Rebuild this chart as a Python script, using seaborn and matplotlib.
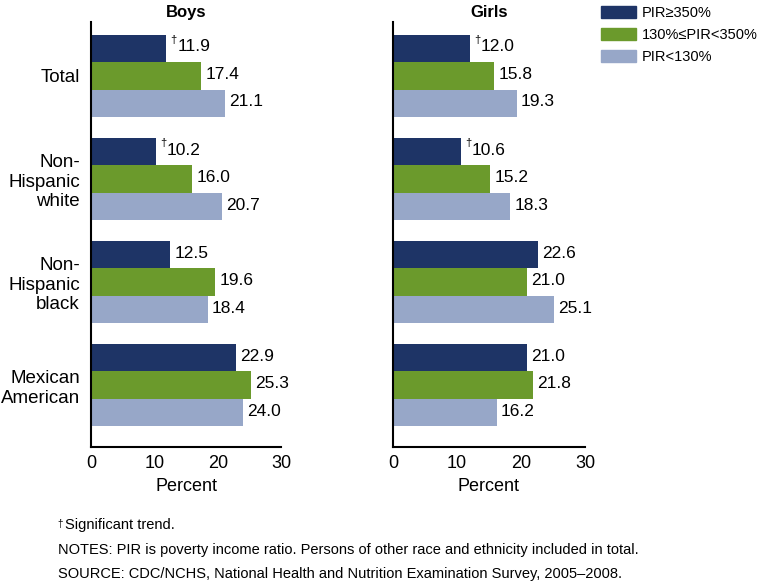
import pandas as pd
import matplotlib.pyplot as plt
import seaborn as sns

# Dados
grupos = ['Total', 'Non-\nHispanic\nwhite', 'Non-\nHispanic\nblack', 'Mexican\nAmerican']
renda = ['PIR≥350%', '130%≤PIR<350%', 'PIR<130%']
boys_alta = [11.9, 10.2, 12.5, 22.9]
boys_media = [17.4, 16.0, 19.6, 25.3]
boys_baixa = [21.1, 20.7, 18.4, 24.0]
girls_alta = [12.0, 10.6, 22.6, 21.0]
girls_media = [15.8, 15.2, 21.0, 21.8]
girls_baixa = [19.3, 18.3, 25.1, 16.2]
# tendência significativa (dagger) na barra PIR>=350%
boys_trend = [True, True, False, False]
girls_trend = [True, True, False, False]

cores = ['#1e3466', '#6b9a2c', '#97a7c8']

def montar(alta, media, baixa):
    linhas = []
    for serie, vals in zip(renda, [alta, media, baixa]):
        for g, v in zip(grupos, vals):
            linhas.append({'grupo': g, 'renda': serie, 'valor': v})
    return pd.DataFrame(linhas)

df_boys = montar(boys_alta, boys_media, boys_baixa)
df_girls = montar(girls_alta, girls_media, girls_baixa)

sns.set_style('white')
plt.rcParams['font.family'] = ['Liberation Sans', 'DejaVu Sans']
for chave in ['text.color', 'axes.labelcolor', 'xtick.color', 'ytick.color']:
    plt.rcParams[chave] = 'black'

fig = plt.figure(figsize=(7.61, 5.84), dpi=100)
ax1 = fig.add_axes([0.1196, 0.2346, 0.2497, 0.7274])
ax2 = fig.add_axes([0.5164, 0.2346, 0.2523, 0.7274], sharey=ax1)

for ax, df, titulo, trend in [(ax1, df_boys, 'Boys', boys_trend), (ax2, df_girls, 'Girls', girls_trend)]:
    sns.barplot(data=df, x='valor', y='grupo', hue='renda', hue_order=renda,
                palette=cores, orient='h', width=0.8, saturation=1, linewidth=0,
                legend=False, ax=ax)
    for i, cont in enumerate(ax.containers):
        for j, barra in enumerate(cont):
            v = barra.get_width()
            txt = f'{v:.1f}'
            y = barra.get_y() + barra.get_height() / 2
            if i == 0 and trend[j]:
                ax.annotate('†', (v, y), xytext=(3, 6), textcoords='offset points',
                            fontsize=8, va='center', ha='left')
                ax.annotate(txt, (v, y), xytext=(8, 1), textcoords='offset points',
                            fontsize=12.5, va='center', ha='left')
            else:
                ax.annotate(txt, (v, y), xytext=(3, 1), textcoords='offset points',
                            fontsize=12.5, va='center', ha='left')
    ax.set_xlim(0, 30)
    ax.set_ylim(3.6, -0.52)
    ax.set_xticks([0, 10, 20, 30])
    ax.set_xlabel('Percent', fontsize=13)
    ax.set_ylabel('')
    ax.set_title(titulo, fontsize=12, fontweight='bold', pad=4)
    ax.tick_params(axis='x', direction='in', length=9, width=1.5, labelsize=13, pad=6, color='black')
    ax.tick_params(axis='y', length=0, labelsize=13.5, pad=8)
    sns.despine(ax=ax)
    for lado in ['left', 'bottom']:
        ax.spines[lado].set_color('black')
        ax.spines[lado].set_linewidth(1.5)

ax2.tick_params(axis='y', labelleft=False)

handles = [plt.Rectangle((0, 0), 1, 1, color=c) for c in cores]
fig.legend(handles, renda, loc='upper left', bbox_to_anchor=(0.772, 1.012),
           frameon=False, fontsize=10.5, handlelength=2.4, handleheight=0.9,
           labelspacing=0.55, handletextpad=0.45)

fig.text(0.076, 0.098, '†', fontsize=7)
fig.text(0.086, 0.095, 'Significant trend.', fontsize=10.5)
fig.text(0.076, 0.052, 'NOTES: PIR is poverty income ratio. Persons of other race and ethnicity included in total.', fontsize=10.5)
fig.text(0.076, 0.010, 'SOURCE: CDC/NCHS, National Health and Nutrition Examination Survey, 2005–2008.', fontsize=10.5)

plt.savefig('out.png', dpi=100)
